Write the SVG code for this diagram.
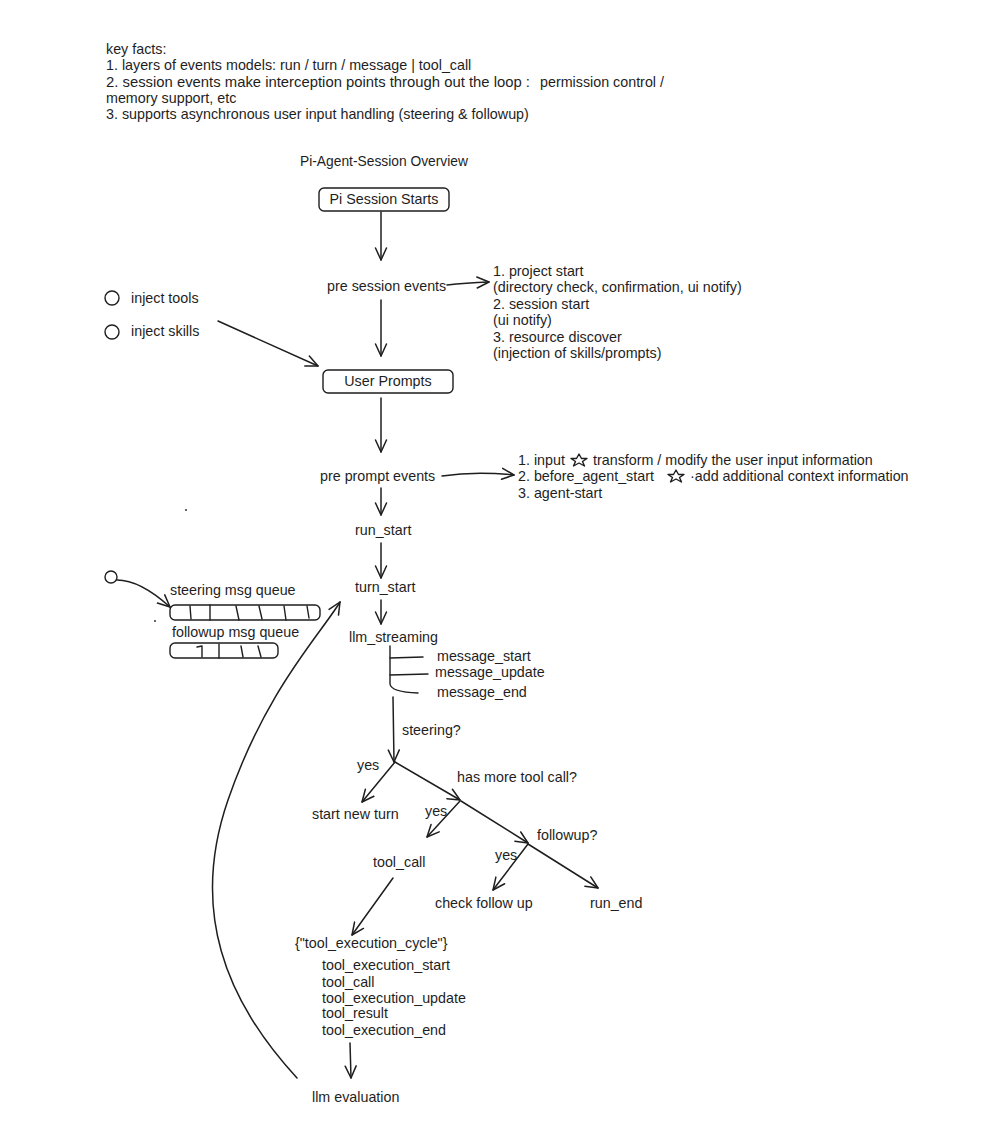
<svg xmlns="http://www.w3.org/2000/svg" width="991" height="1140" viewBox="0 0 991 1140">
<defs>
<style>
text{font-family:"Liberation Sans",Arial,sans-serif;font-size:14.3px;fill:#1e1e1e}
.ln{fill:none;stroke:#1e1e1e;stroke-width:1.4;stroke-linecap:round;stroke-linejoin:round}
.bx{fill:#fff;stroke:#1e1e1e;stroke-width:1.4}
.ar{fill:none;stroke:#1e1e1e;stroke-width:1.5;stroke-linecap:round;marker-end:url(#ah)}
</style>
<marker id="ah" viewBox="0 0 14 14" refX="13" refY="7" markerWidth="14" markerHeight="14" orient="auto" markerUnits="userSpaceOnUse">
<path d="M1,1.5 L13,7 L1,12.5" fill="none" stroke="#1e1e1e" stroke-width="1.5" stroke-linecap="round" stroke-linejoin="round"/>
</marker>
</defs>
<rect width="991" height="1140" fill="#fff"/>

<g id="key-facts">
<text x="106" y="54">key facts:</text>
<text x="106" y="70">1. layers of events models: run / turn / message | tool_call</text>
<text x="106" y="87" textLength="424" lengthAdjust="spacingAndGlyphs">2. session events make interception points through out the loop :</text>
<text x="540" y="87">permission control /</text>
<text x="106" y="103">memory support, etc</text>
<text x="106" y="119">3. supports asynchronous user input handling (steering &amp; followup)</text>
</g>

<g id="title"><text x="300" y="166" style="font-size:13.8px">Pi-Agent-Session Overview</text></g>

<g id="pi-session-starts">
<rect class="bx" x="319" y="188" width="130" height="23" rx="5"/>
<text x="384" y="204" text-anchor="middle">Pi Session Starts</text>
</g>

<g id="pre-session-events"><text x="327" y="291">pre session events</text></g>

<g id="pre-session-list">
<text x="493" y="276">1. project start</text>
<text x="493" y="292">(directory check, confirmation, ui notify)</text>
<text x="493" y="309">2. session start</text>
<text x="493" y="325">(ui notify)</text>
<text x="493" y="342">3. resource discover</text>
<text x="493" y="358">(injection of skills/prompts)</text>
</g>

<g id="inject-tools">
<circle class="ln" cx="112" cy="298" r="7"/>
<text x="131" y="303">inject tools</text>
</g>
<g id="inject-skills">
<circle class="ln" cx="112" cy="332" r="7"/>
<text x="131" y="336">inject skills</text>
</g>

<g id="user-prompts">
<rect class="bx" x="323" y="370" width="130" height="23" rx="5"/>
<text x="388" y="386" text-anchor="middle">User Prompts</text>
</g>

<g id="pre-prompt-events"><text x="320" y="481">pre prompt events</text></g>

<g id="pre-prompt-list">
<text x="518" y="465">1. input</text>
<polygon class="ln" points="579,454 581.5,458.5 587,458.5 582.5,461.5 584.5,466 579,463 573.5,466 575.5,461.5 571,458.5 576.5,458.5"/>
<text x="593" y="465">transform / modify the user input information</text>
<text x="518" y="481">2. before_agent_start</text>
<polygon class="ln" points="676,470 678.5,474.5 684,474.5 679.5,477.5 681.5,482 676,479 670.5,482 672.5,477.5 668,474.5 673.5,474.5"/>
<text x="690" y="481">·add additional context information</text>
<text x="518" y="498">3. agent-start</text>
</g>

<g id="run-start"><text x="355" y="535">run_start</text></g>
<g id="turn-start"><text x="355" y="592">turn_start</text></g>
<g id="llm-streaming"><text x="349" y="642">llm_streaming</text></g>
<g id="message-events">
<text x="437" y="661">message_start</text>
<text x="435" y="677">message_update</text>
<text x="437" y="697">message_end</text>
</g>

<g id="steering-queue">
<circle class="ln" cx="111" cy="577" r="6"/>
<text x="170" y="595">steering msg queue</text>
<rect class="ln" x="170" y="605" width="150" height="15" rx="5"/>
<path class="ln" d="M190,606 L191,619 M210,605 L210,620 M236,606 L239,620 M259,606 L262,619 M284,606 L286,620 M307,606 L309,618"/>
</g>
<g id="followup-queue">
<text x="172" y="637">followup msg queue</text>
<rect class="ln" x="170" y="643" width="108" height="15" rx="5"/>
<path class="ln" d="M197,647 L202,646 L202,657 M219,644 L219,658 M241,646 L243,657 M258,646 L261,657"/>
</g>
<g id="dots">
<circle cx="155" cy="621" r="0.9" fill="#1e1e1e"/>
<circle cx="186" cy="510" r="0.9" fill="#1e1e1e"/>
</g>

<g id="steering-q"><text x="402" y="735">steering?</text></g>
<g id="start-new-turn"><text x="312" y="819">start new turn</text></g>
<g id="has-more-tool-call"><text x="457" y="782">has more tool call?</text></g>
<g id="tool-call"><text x="373" y="867">tool_call</text></g>
<g id="followup-q"><text x="537" y="840">followup?</text></g>
<g id="check-follow-up"><text x="435" y="908">check follow up</text></g>
<g id="run-end"><text x="590" y="908">run_end</text></g>
<g id="tool-execution-cycle">
<text x="295" y="948">{"tool_execution_cycle"}</text>
<text x="322" y="970">tool_execution_start</text>
<text x="322" y="987">tool_call</text>
<text x="322" y="1003">tool_execution_update</text>
<text x="322" y="1018">tool_result</text>
<text x="322" y="1035">tool_execution_end</text>
</g>
<g id="llm-evaluation"><text x="312" y="1102">llm evaluation</text></g>

<g id="labels">
<text x="357" y="770">yes</text>
<text x="425" y="816">yes</text>
<text x="495" y="860">yes</text>
</g>

<g id="connectors">
<path class="ar" d="M381,212 L381,260"/>
<path class="ar" d="M447,285 Q465,283 489,282"/>
<path class="ar" d="M381,300 L381,356"/>
<path class="ar" d="M218,321 L318,366"/>
<path class="ar" d="M381,398 L381,452"/>
<path class="ar" d="M442,476 Q475,471 514,475"/>
<path class="ar" d="M381,488 L381,515"/>
<path class="ar" d="M381,543 L381,578"/>
<path class="ar" d="M381,600 L381,624"/>
<path class="ln" d="M390,646 L390,684 Q391,692 418,693"/>
<path class="ln" d="M390,658 L423,657"/>
<path class="ln" d="M390,675 L428,674"/>
<path class="ar" d="M393,697 L394,762"/>
<path class="ar" d="M395,762 L362,802"/>
<path class="ar" d="M395,762 L460,800"/>
<path class="ar" d="M460,801 L427,837"/>
<path class="ar" d="M461,801 L528,843"/>
<path class="ar" d="M528,844 L493,890"/>
<path class="ar" d="M528,844 L598,888"/>
<path class="ar" d="M393,878 L352,935"/>
<path class="ar" d="M350,1043 L351,1078"/>
<path class="ar" d="M117,580 Q140,580 170,607"/>
<path class="ar" d="M297,1078 C225,1000 190,910 228,800 S320,635 340,602"/>
</g>
</svg>
